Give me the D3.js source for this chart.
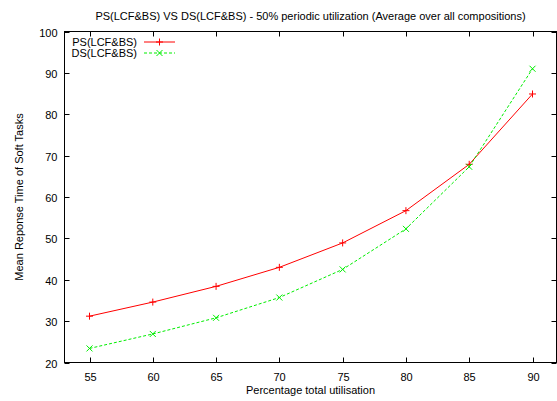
<!DOCTYPE html>
<html><head>
<meta charset="utf-8">
<script src="https://d3js.org/d3.v7.min.js"></script>
<style>
  body { margin: 0; background: #fff; }
  text { font-family: "Liberation Sans", Arial, sans-serif; font-size: 11px; fill: #000; }
</style>
</head>
<body>
<svg id="chart" width="557" height="401"></svg>
<script>
// Data
const utilisation = [55, 60, 65, 70, 75, 80, 85, 90];
const psValues = [31.2, 34.6, 38.4, 43.0, 48.9, 56.7, 67.9, 84.9];
const dsValues = [23.4, 26.9, 30.8, 35.7, 42.5, 52.3, 67.3, 91.0];
const yTicks = [20, 30, 40, 50, 60, 70, 80, 90, 100];
const seriesNames = ["PS(LCF&BS)", "DS(LCF&BS)"];

const svg = d3.select("#chart");
const plotL = 64.5, plotR = 556.5, plotT = 31.5, plotB = 362.5;

// x axis has a bit of padding either side of 55..90 like the original
const x = d3.scaleLinear().domain([55, 90]).range([89.5, 532.5]);
const y = d3.scaleLinear().domain([20, 100]).range([plotB, plotT]);

// frame
svg.append("rect")
   .attr("x", plotL).attr("y", plotT)
   .attr("width", plotR - plotL).attr("height", plotB - plotT)
   .attr("fill", "none").attr("stroke", "#000").attr("stroke-width", 1);

const tickLen = 5;

// y ticks (left and mirrored right)
yTicks.forEach(t => {
  const yy = Math.round(y(t)) + 0.5;
  svg.append("line").attr("x1", plotL).attr("x2", plotL + tickLen).attr("y1", yy).attr("y2", yy).attr("stroke", "#000");
  svg.append("line").attr("x1", plotR).attr("x2", plotR - tickLen).attr("y1", yy).attr("y2", yy).attr("stroke", "#000");
  svg.append("text").attr("x", plotL - 7).attr("y", yy + 4).attr("text-anchor", "end").text(t);
});

// x ticks (bottom and mirrored top)
utilisation.forEach(t => {
  const xx = Math.round(x(t)) + 0.5;
  svg.append("line").attr("x1", xx).attr("x2", xx).attr("y1", plotB).attr("y2", plotB - tickLen).attr("stroke", "#000");
  svg.append("line").attr("x1", xx).attr("x2", xx).attr("y1", plotT).attr("y2", plotT + tickLen).attr("stroke", "#000");
  svg.append("text").attr("x", xx).attr("y", plotB + 18).attr("text-anchor", "middle").text(t);
});

// titles
svg.append("text").attr("x", (plotL + plotR) / 2).attr("y", 20).attr("text-anchor", "middle")
   .text("PS(LCF&BS) VS DS(LCF&BS) - 50% periodic utilization (Average over all compositions)");
svg.append("text").attr("x", (plotL + plotR) / 2).attr("y", 394).attr("text-anchor", "middle")
   .text("Percentage total utilisation");
svg.append("text").attr("transform", "translate(23," + ((plotT + plotB) / 2) + ") rotate(-90)")
   .attr("text-anchor", "middle").text("Mean Reponse Time of Soft Tasks");

const line = d3.line().x(d => x(d[0])).y(d => y(d[1]));

function plusMark(g, cx, cy, color) {
  const s = 3.5;
  g.append("path").attr("d", `M${cx - s},${cy}H${cx + s}M${cx},${cy - s}V${cy + s}`)
   .attr("stroke", color).attr("stroke-width", 1).attr("fill", "none");
}
function crossMark(g, cx, cy, color) {
  const s = 3;
  g.append("path").attr("d", `M${cx - s},${cy - s}L${cx + s},${cy + s}M${cx - s},${cy + s}L${cx + s},${cy - s}`)
   .attr("stroke", color).attr("stroke-width", 1).attr("fill", "none");
}

const series = [
  { name: seriesNames[0], values: psValues, color: "#ff0000", dash: null, mark: plusMark },
  { name: seriesNames[1], values: dsValues, color: "#00ee00", dash: "3,2", mark: crossMark }
];

const plot = svg.append("g");
series.forEach((s, i) => {
  const pts = utilisation.map((u, j) => [u, s.values[j]]);
  plot.append("path").datum(pts).attr("d", line)
      .attr("fill", "none").attr("stroke", s.color).attr("stroke-width", 1)
      .attr("stroke-dasharray", s.dash);
  pts.forEach(p => s.mark(plot, x(p[0]), y(p[1]), s.color));

  // legend
  const ly = 42 + i * 11;
  svg.append("text").attr("x", 137).attr("y", ly + 4).attr("text-anchor", "end").text(s.name);
  svg.append("line").attr("x1", 144).attr("x2", 175).attr("y1", ly).attr("y2", ly)
     .attr("stroke", s.color).attr("stroke-dasharray", s.dash);
  s.mark(svg, 159.5, ly, s.color);
});
</script>
</body>
</html>
